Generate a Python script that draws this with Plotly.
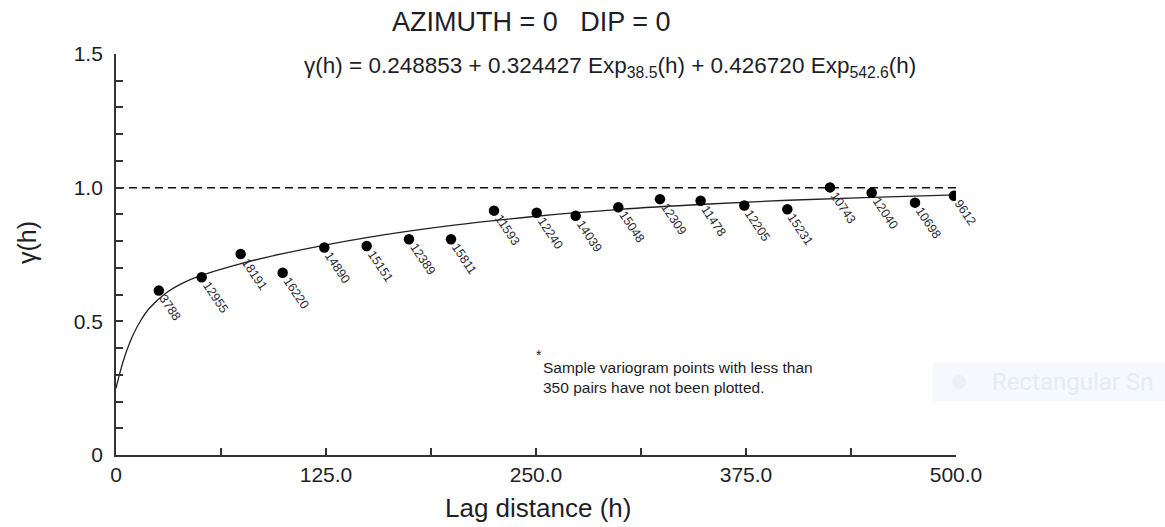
import plotly.graph_objects as go

# ---- data ----
lag = [25.5, 51.0, 74.2, 99.2, 124.0, 149.2, 174.4, 199.4, 225.0, 250.4,
       273.6, 299.0, 323.8, 348.0, 374.0, 399.6, 425.0, 449.8, 475.6, 498.8]
gamma = [0.615, 0.665, 0.752, 0.682, 0.776, 0.782, 0.807, 0.807, 0.914, 0.906,
         0.895, 0.927, 0.957, 0.951, 0.933, 0.919, 1.001, 0.981, 0.944, 0.970]
pairs = ["3788", "12955", "18191", "16220", "14890", "15151", "12389", "15811", "11593", "12240",
         "14039", "15048", "12309", "11478", "12205", "15231", "10743", "12040", "10698", "9612"]

# model curve
model_h = [0, 2, 5, 10, 15, 20, 30, 40, 50, 75, 100, 150, 200, 250, 300, 350, 400, 450, 500]
model_g = [0.249, 0.300, 0.365, 0.447, 0.506, 0.550, 0.607, 0.644, 0.670, 0.717, 0.754,
           0.814, 0.859, 0.893, 0.919, 0.938, 0.953, 0.964, 0.973]

sill_x = [0, 500]
sill_y = [1.0, 1.0]

x_tickvals = [0, 125, 250, 375, 500]
x_ticktext = ["0", "125.0", "250.0", "375.0", "500.0"]
y_tickvals = [0, 0.5, 1.0, 1.5]
y_ticktext = ["0", "0.5", "1.0", "1.5"]

title_text = "AZIMUTH = 0   DIP = 0"
equation = "γ(h) = 0.248853 + 0.324427 Exp<sub>38.5</sub>(h) + 0.426720 Exp<sub>542.6</sub>(h)"
note_lines = ["Sample variogram points with less than", "350 pairs have not been plotted."]
x_title = "Lag distance (h)"
y_title = "γ(h)"

FONT = "Liberation Sans, Arial, sans-serif"
INK = "#1e1e26"

# plot area in pixels: left 116, right 956, top 54, bottom 455
L, R, T, B = 116, 956, 54, 455


def px(xp):
    return (xp - L) / (R - L)


def py(yp):
    return (B - yp) / (B - T)


fig = go.Figure()
fig.add_trace(go.Scatter(x=sill_x, y=sill_y, mode="lines",
                         line=dict(color="#111", width=1.5, dash="8px,5px"),
                         hoverinfo="skip", showlegend=False))
fig.add_trace(go.Scatter(x=model_h, y=model_g, mode="lines", line_shape="spline",
                         line=dict(color="#222", width=1.3),
                         hoverinfo="skip", showlegend=False))
fig.add_trace(go.Scatter(x=lag, y=gamma, mode="markers",
                         marker=dict(color="black", size=10.5),
                         showlegend=False))

for xv, yv, t in zip(lag, gamma, pairs):
    fig.add_annotation(x=xv, y=yv, text=t, showarrow=False, textangle=56,
                       xanchor="left", yanchor="top", xshift=-5, yshift=1,
                       font=dict(family=FONT, size=12.5, color="#2a2a36"))

fig.add_annotation(xref="paper", yref="paper", x=px(531), y=py(22),
                   text=title_text, showarrow=False, xanchor="center", yanchor="middle",
                   font=dict(family=FONT, size=27, color=INK))
fig.add_annotation(xref="paper", yref="paper", x=px(610), y=py(67),
                   text=equation, showarrow=False, xanchor="center", yanchor="middle",
                   font=dict(family=FONT, size=22.5, color=INK))
fig.add_annotation(xref="paper", yref="paper", x=px(534), y=py(355),
                   text="*", showarrow=False, xanchor="left", yanchor="middle",
                   font=dict(family=FONT, size=14, color=INK))
fig.add_annotation(xref="paper", yref="paper", x=px(541), y=py(377),
                   text="<br>".join(note_lines), showarrow=False, align="left",
                   xanchor="left", yanchor="middle",
                   font=dict(family=FONT, size=15.5, color=INK))

fig.add_annotation(xref="paper", yref="paper", x=px(538), y=py(508),
                   text=x_title, showarrow=False, xanchor="center", yanchor="middle",
                   font=dict(family=FONT, size=26, color=INK))
fig.add_annotation(xref="paper", yref="paper", x=px(27), y=py(243),
                   text=y_title, showarrow=False, textangle=-90,
                   xanchor="center", yanchor="middle",
                   font=dict(family=FONT, size=25, color=INK))

# faint screen-capture overlay visible at right of the reference
fig.add_shape(type="rect", xref="paper", yref="paper", x0=px(933), x1=px(1170),
              y0=py(401), y1=py(363),
              fillcolor="#f5f8fc", line=dict(width=0), layer="below")
fig.add_shape(type="circle", xref="paper", yref="paper", x0=px(952), x1=px(966),
              y0=py(389), y1=py(375),
              fillcolor="#eceff3", line=dict(width=0), layer="below")
fig.add_annotation(xref="paper", yref="paper", x=px(990), y=py(382), text="Rectangular Sn",
                   showarrow=False, xanchor="left", yanchor="middle",
                   font=dict(family="Roboto, sans-serif", size=24, color="#e6ebf2"))

fig.update_xaxes(range=[0, 500], tickvals=x_tickvals, ticktext=x_ticktext,
                 ticks="inside", ticklen=7, tickwidth=1.5, tickcolor="#333",
                 minor=dict(ticks="inside", ticklen=7, tickwidth=1.5, tickcolor="#333",
                            tick0=0, dtick=62.5, showgrid=False),
                 showline=True, linecolor="#333", linewidth=1.8, showgrid=False, zeroline=False,
                 tickfont=dict(family=FONT, size=21, color=INK))
fig.update_yaxes(range=[0, 1.5], tickvals=y_tickvals, ticktext=y_ticktext,
                 ticks="inside", ticklen=7, tickwidth=1.5, tickcolor="#333",
                 minor=dict(ticks="inside", ticklen=7, tickwidth=1.5, tickcolor="#333",
                            tick0=0, dtick=0.1, showgrid=False),
                 showline=True, linecolor="#333", linewidth=1.8, showgrid=False, zeroline=False,
                 ticklabelstandoff=7,
                 tickfont=dict(family=FONT, size=21, color=INK))

fig.update_layout(width=1165, height=527, margin=dict(l=L, r=1165 - R, t=T, b=527 - B),
                  plot_bgcolor="white", paper_bgcolor="white", showlegend=False)

fig.write_html("out.html")
